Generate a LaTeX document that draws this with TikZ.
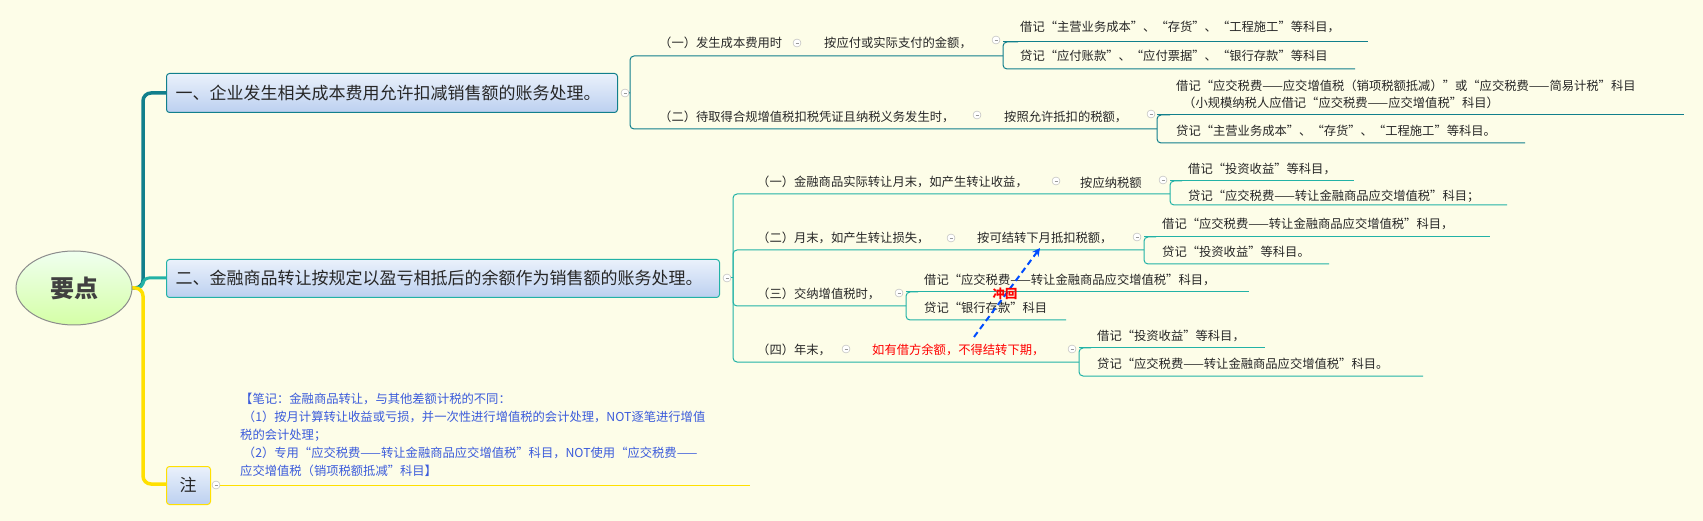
\documentclass[tikz,border=0pt]{standalone}
\usepackage{fontspec}
\setmainfont{Noto Sans CJK SC}
\usetikzlibrary{shadings,shapes.geometric,arrows.meta}
\definecolor{bg}{HTML}{FDFDE8}
\definecolor{tealA}{HTML}{117F8C}
\definecolor{tealB}{HTML}{22B2A6}
\definecolor{yel}{HTML}{FFE000}
\definecolor{notec}{HTML}{3B5BDB}
\definecolor{boxtop}{HTML}{EAF1FB}
\definecolor{boxbot}{HTML}{BCD0F0}
\begin{document}
\begin{tikzpicture}[x=1pt,y=-1pt,
  leaf/.style={anchor=west,inner sep=0pt,font=\fontsize{12.3}{14}\selectfont,text=black!85},
  box/.style={draw,line width=1pt,rounded corners=3pt,top color=boxtop,bottom color=boxbot,inner sep=0pt,anchor=north west},
  col/.style={circle,draw=black!30,fill=white,minimum size=8pt,inner sep=0pt,
     path picture={\draw[black!40,line width=0.5pt](path picture bounding box.west)++(2.5pt,0)--++(3pt,0);}},
  l1/.style={tealA,line width=1pt,rounded corners=4pt},
  l2/.style={tealB,line width=1pt,rounded corners=4pt}]
\useasboundingbox[fill=bg] (0,0) rectangle (1703,521);
% trunk
\draw[tealA,line width=3.5pt,rounded corners=8pt] (132,288) -- (143,288) -- (143,93) -- (166,93);
\draw[tealB,line width=3pt,rounded corners=6pt] (132,288) -- (143,288) -- (143,278) -- (166,278);
\draw[yel,line width=3.5pt,rounded corners=8pt] (132,288) -- (143,288) -- (143,484) -- (166,484);
% root
\node[ellipse,draw=black!45,line width=1pt,minimum width=116pt,minimum height=74pt,top color=green!6,bottom color=green!30!lime!35,font=\fontsize{24}{26}\selectfont\bfseries,text=black!75] (root) at (74,288) {要点};
% boxes
\node[box,draw=tealA,minimum width=451pt,minimum height=39pt] (b1) at (166,73) {};
\node[anchor=west,font=\fontsize{17}{19}\selectfont,text=black!85] (t1) at (172,93) {一、企业发生相关成本费用允许扣减销售额的账务处理。};
\node[box,draw=tealB,minimum width=553pt,minimum height=38pt] (b2) at (166,259) {};
\node[anchor=west,font=\fontsize{17}{19}\selectfont,text=black!85] (t2) at (172,278) {二、金融商品转让按规定以盈亏相抵后的余额作为销售额的账务处理。};
\node[box,draw=yel,minimum width=44pt,minimum height=38pt] (b3) at (166,466) {};
\node[font=\fontsize{17}{19}\selectfont,text=black!85] (t3) at (188,485) {注};
\node[col] (c1) at (625,93) {};
\node[col] (c2) at (727,278) {};
\node[col] (c3) at (216,485) {};
% note
\draw[yel,line width=0.8pt] (c3) -- (750,485);
\node[anchor=north west,align=left,inner sep=0pt,text=notec,font=\fontsize{12.3}{18}\selectfont] (note) at (240,393)
{【笔记：金融商品转让，与其他差额计税的不同：\\
\ （1）按月计算转让收益或亏损，并一次性进行增值税的会计处理，NOT逐笔进行增值\\
税的会计处理；\\
\ （2）专用“应交税费——转让金融商品应交增值税”科目，NOT使用“应交税费——\\
应交增值税（销项税额抵减”科目】};
% group 1
\draw[l1] (c1) -- (630,93) (630,93) -- (630,56) -- (1003,56);
\draw[l1] (630,93) -- (630,129) -- (1157,129);
\node[leaf] (a1) at (659,43) {（一）发生成本费用时};
\node[col] (ca1) at (797,43) {};
\node[leaf] (a1b) at (824,43) {按应付或实际支付的金额，};
\node[col] (ca1b) at (996,40) {};
\draw[l1] (1018,42) -- (1003,42) -- (1003,69) -- (1355,69);
\draw[l1] (1003,42) -- (1368,42);
\node[leaf] (a1c) at (1020,27) {借记“主营业务成本”、“存货”、“工程施工”等科目，};
\node[leaf] (a1d) at (1020,56) {贷记“应付账款”、“应付票据”、“银行存款”等科目};
\node[leaf] (a2) at (659,117) {（二）待取得合规增值税扣税凭证且纳税义务发生时，};
\node[col] (ca2) at (977,115) {};
\node[leaf] (a2b) at (1004,117) {按照允许抵扣的税额，};
\node[col] (ca2b) at (1151,114) {};
\draw[l1] (1157,115) -- (1684,115);
\draw[l1] (1170,115) -- (1157,115) -- (1157,143) -- (1525,143);
\node[leaf] (a2c) at (1176,86) {借记“应交税费——应交增值税（销项税额抵减）”或“应交税费——简易计税”科目};
\node[leaf] (a2d) at (1183,103) {（小规模纳税人应借记“应交税费——应交增值税”科目）};
\node[leaf] (a2e) at (1176,131) {贷记“主营业务成本”、“存货”、“工程施工”等科目。};
% group 2
\draw[l2] (c2) -- (733,278);
\draw[l2] (733,278) -- (733,194) -- (1170,194);
\draw[l2] (733,278) -- (733,250) -- (1144,250);
\draw[l2] (733,278) -- (733,306) -- (906,306);
\draw[l2] (733,278) -- (733,362) -- (1079,362);
\node[leaf] (g1) at (757,182) {（一）金融商品实际转让月末，如产生转让收益，};
\node[col] (cg1) at (1056,181) {};
\node[leaf] (g1b) at (1080,183) {按应纳税额};
\node[col] (cg1b) at (1163,180) {};
\draw[l2] (1182,181) -- (1170,181) -- (1170,205) -- (1507,205);
\draw[l2] (1170,181) -- (1354,181);
\node[leaf] (g1c) at (1188,169) {借记“投资收益”等科目，};
\node[leaf] (g1d) at (1188,196) {贷记“应交税费——转让金融商品应交增值税”科目；};
\node[leaf] (g2) at (757,238) {（二）月末，如产生转让损失，};
\node[col] (cg2) at (951,238) {};
\node[leaf] (g2b) at (977,238) {按可结转下月抵扣税额，};
\node[col] (cg2b) at (1137,237) {};
\draw[l2] (1156,237) -- (1144,237) -- (1144,264) -- (1329,264);
\draw[l2] (1144,237) -- (1490,237);
\node[leaf] (g2c) at (1162,224) {借记“应交税费——转让金融商品应交增值税”科目，};
\node[leaf] (g2d) at (1162,252) {贷记“投资收益”等科目。};
\node[leaf] (g3) at (757,294) {（三）交纳增值税时，};
\node[col] (cg3) at (899,293) {};
\draw[l2] (918,292) -- (906,292) -- (906,320) -- (1066,320);
\draw[l2] (906,292) -- (1249,292);
\node[leaf] (g3c) at (924,280) {借记“应交税费——转让金融商品应交增值税”科目，};
\node[leaf] (g3d) at (924,308) {贷记“银行存款”科目};
\node[leaf] (g4) at (757,350) {（四）年末，};
\node[col] (cg4) at (846,349) {};
\node[leaf,text=red] (g4b) at (872,350) {如有借方余额，不得结转下期，};
\node[col] (cg4b) at (1072,349) {};
\draw[l2] (1091,348) -- (1079,348) -- (1079,376) -- (1423,376);
\draw[l2] (1079,348) -- (1265,348);
\node[leaf] (g4c) at (1097,336) {借记“投资收益”等科目，};
\node[leaf] (g4d) at (1097,364) {贷记“应交税费——转让金融商品应交增值税”科目。};
% arrow
\coordinate (as) at (974,337);
\coordinate (ae) at (1040,248);
\draw[blue!70!cyan,line width=2pt,dash pattern=on 6pt off 4pt,-{Stealth[length=8pt,width=8pt]}] (as) -- (ae);
\node[text=red,font=\fontsize{12.3}{14}\selectfont\bfseries] (ch) at (1005,294) {冲回};
\end{tikzpicture}
\end{document}
